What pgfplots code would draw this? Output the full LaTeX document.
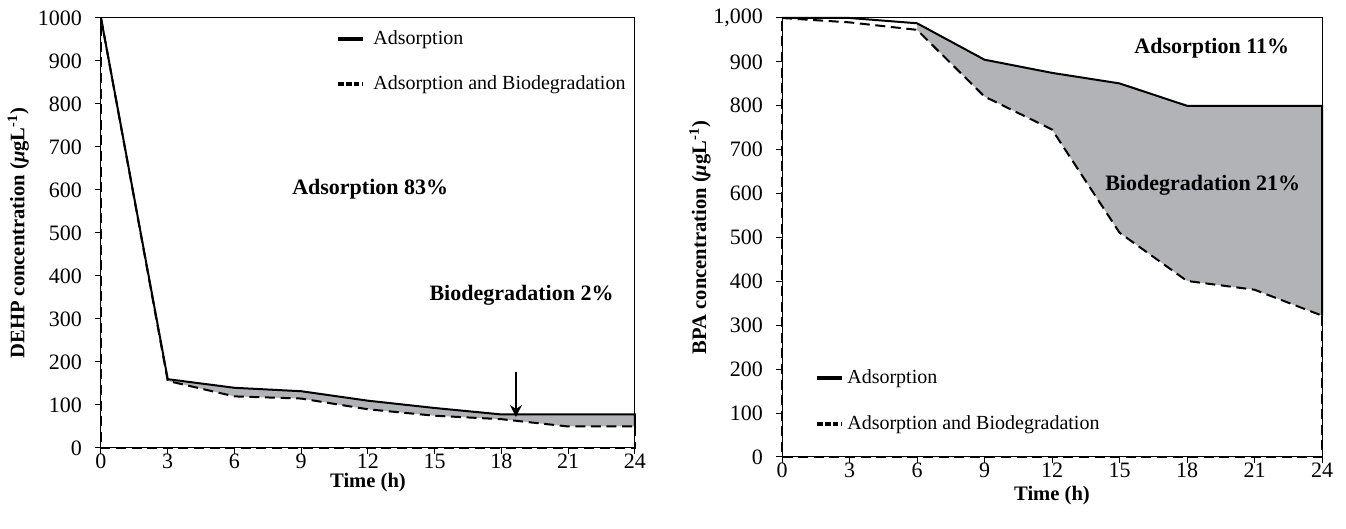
\documentclass[border=0pt]{standalone}
\usepackage{fontspec}
\setmainfont{Liberation Serif}
\usepackage{pgfplots}
\pgfplotsset{compat=1.18}
\usetikzlibrary{arrows.meta}
\definecolor{fillgray}{RGB}{178,179,183}

\begin{document}
\begin{tikzpicture}
\path[use as bounding box] (0pt,0pt) rectangle (673pt,264.5pt);
\pgfplotsset{
  every axis/.append style={
    scale only axis,
    xmin=0, xmax=24, ymin=0, ymax=1000,
    xtick={0,3,...,24},
    ytick={0,100,...,1000},
    tick align=outside,
    xtick pos=bottom, ytick pos=left,
    major tick length=3pt,
    axis line style={line width=0.5pt},
    tick style={black, line width=0.5pt},
    ticklabel style={font=\fontsize{11}{13}\selectfont},
    xticklabel style={yshift=3.6pt},
    yticklabel style={xshift=-3pt},
    /pgf/number format/assume math mode=true,
    label style={font=\bfseries\fontsize{10.3}{12}\selectfont},
    clip=false,
    legend cell align=left,
    legend style={draw=none, fill=none, font=\fontsize{10}{12}\selectfont,
      inner sep=0pt, column sep=0pt, nodes={inner sep=0pt}},
  },
  solidline/.style={black, line width=1pt},
  dashline/.style={black, line width=1pt, dash pattern=on 5pt off 2.8pt},
}

% left panel: DEHP
\begin{axis}[at={(50.5pt,40.5pt)}, anchor=south west, width=267pt, height=215pt,
  /pgf/number format/1000 sep={},
  xlabel={Time (h)},
  ylabel={DEHP concentration ({\itshape μ}gL\textsuperscript{-1})},
  xlabel style={at={(axis description cs:0.5,-0.08)}, anchor=center},
  ylabel style={at={(axis description cs:-0.155,0.5)}, anchor=center},
  legend style={at={(axis description cs:0.44,0.972)}, anchor=north west, row sep=14pt}]
\addplot[fill=fillgray, draw=none, forget plot] coordinates {
  (3,160) (6,140) (9,132) (12,110) (15,93) (18,78) (21,78) (24,78)
  (24,50) (21,50) (18,67) (15,75) (12,90) (9,115) (6,120) (3,156)} -- cycle;
\addplot[dashline, forget plot] coordinates {
  (24,50) (24,0) (0,0) (0,1000)};
\addplot[dashline, forget plot] coordinates {
  (0,1000) (3,156) (6,120) (9,115) (12,90) (15,75) (18,67) (21,50) (24,50)};
\addplot[solidline, forget plot] coordinates {
  (0,1000) (3,160) (6,140) (9,132) (12,110) (15,93) (18,78) (21,78) (24,78) (24,50)};
\addlegendimage{legend image code/.code={
  \draw[black, line width=2pt] (0pt,0pt) -- (12.5pt,0pt);
  \path[draw=none] (0pt,0pt) -- (17.5pt,0pt);}}
\addlegendentry{Adsorption}
\addlegendimage{legend image code/.code={
  \draw[black, line width=2pt, dash pattern=on 2.7pt off 1.2pt] (0pt,0pt) -- (12.5pt,0pt);
  \path[draw=none] (0pt,0pt) -- (17.5pt,0pt);}}
\addlegendentry{Adsorption and Biodegradation}
\node[font=\bfseries\fontsize{11}{13}\selectfont] at (axis cs:12.1,602) {Adsorption 83\%};
\node[font=\bfseries\fontsize{11}{13}\selectfont] at (axis cs:18.9,356) {Biodegradation 2\%};
\draw[-{Stealth[length=6pt,width=6pt]}, line width=0.7pt] (axis cs:18.65,177) -- (axis cs:18.65,72);
\end{axis}

% right panel: BPA
\begin{axis}[at={(391pt,36pt)}, anchor=south west, width=270pt, height=219.5pt,
  /pgf/number format/1000 sep={,},
  xlabel={Time (h)},
  ylabel={BPA concentration ({\itshape μ}gL\textsuperscript{-1})},
  xlabel style={at={(axis description cs:0.5,-0.087)}, anchor=center},
  ylabel style={at={(axis description cs:-0.152,0.5)}, anchor=center},
  legend style={at={(axis description cs:0.061,0.199)}, anchor=north west, row sep=14.5pt}]
\addplot[fill=fillgray, draw=none, forget plot] coordinates {
  (6,988) (9,905) (12,875) (15,851) (18,800) (21,800) (24,800)
  (24,322) (21,381) (18,401) (15,511) (12,746) (9,821) (6,973)} -- cycle;
\addplot[dashline, forget plot] coordinates {
  (24,322) (24,0) (0,0) (0,1000)};
\addplot[dashline, forget plot] coordinates {
  (0,1000) (3,990) (6,973) (9,821) (12,746) (15,511) (18,401) (21,381) (24,322)};
\addplot[solidline, forget plot] coordinates {
  (0,1000) (3,1000) (6,988) (9,905) (12,875) (15,851) (18,800) (21,800) (24,800) (24,322)};
\addlegendimage{legend image code/.code={
  \draw[black, line width=2pt] (0pt,0pt) -- (12.5pt,0pt);
  \path[draw=none] (0pt,0pt) -- (15pt,0pt);}}
\addlegendentry{Adsorption}
\addlegendimage{legend image code/.code={
  \draw[black, line width=2pt, dash pattern=on 2.7pt off 1.2pt] (0pt,0pt) -- (12.5pt,0pt);
  \path[draw=none] (0pt,0pt) -- (15pt,0pt);}}
\addlegendentry{Adsorption and Biodegradation}
\node[font=\bfseries\fontsize{11}{13}\selectfont] at (axis cs:19.1,932) {Adsorption 11\%};
\node[font=\bfseries\fontsize{11}{13}\selectfont] at (axis cs:18.7,620) {Biodegradation 21\%};
\end{axis}
\end{tikzpicture}
\end{document}
